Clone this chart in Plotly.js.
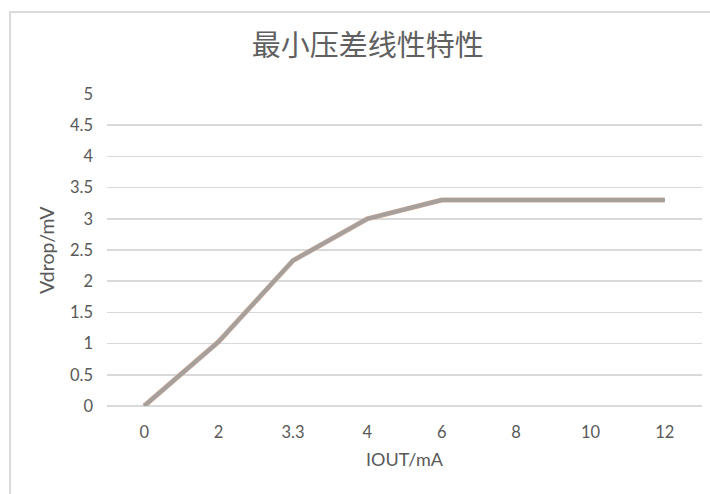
<!DOCTYPE html>
<html>
<head>
<meta charset="utf-8">
<script src="https://cdn.plot.ly/plotly-3.0.1.min.js"></script>
<style>
html,body{margin:0;padding:0;background:#fff;}
#chart{width:710px;height:494px;position:absolute;left:0;top:0;}
#frame{position:absolute;left:9px;top:11px;width:720px;height:500px;border:2px solid #dadada;pointer-events:none;box-sizing:border-box;}
</style>
</head>
<body>
<div id="chart"></div>
<div id="frame"></div>
<script>
var categories = ["0", "2", "3.3", "4", "6", "8", "10", "12"];
var vdrop = [0, 1.03, 2.33, 3.0, 3.3, 3.3, 3.3, 3.3];
var yTicks = [0, 0.5, 1, 1.5, 2, 2.5, 3, 3.5, 4, 4.5, 5];
var yTickText = ["0", "0.5", "1", "1.5", "2", "2.5", "3", "3.5", "4", "4.5", "5"];

var latin = "Lato, 'Open Sans', 'Noto Sans', sans-serif";
var traces = [
  {
    x: categories, y: vdrop, type: "scatter", mode: "lines",
    line: {color: "rgb(214,172,152)", width: 5},
    hoverinfo: "skip"
  },
  {
    x: categories, y: vdrop, type: "scatter", mode: "lines",
    line: {color: "rgb(166,160,157)", width: 4},
    hoverinfo: "skip"
  }
];

var layout = {
  width: 710, height: 494,
  margin: {l: 107, r: 8, t: 94, b: 88},
  paper_bgcolor: "#fff", plot_bgcolor: "#fff",
  showlegend: false,
  title: {
    text: "最小压差线性特性",
    x: 0.518, xanchor: "center", y: 0.908, yanchor: "middle",
    font: {family: "'Noto Sans CJK SC', sans-serif", size: 29, color: "#606060"}
  },
  xaxis: {
    type: "category",
    range: [-0.5, 7.5],
    showgrid: false, zeroline: false, showline: false,
    ticks: "", tickfont: {family: latin, size: 16.5, color: "#595959"},
    ticklabelstandoff: 14,
    title: {text: "IOUT/mA", standoff: 12, font: {family: latin, size: 18, color: "#595959"}}
  },
  yaxis: {
    range: [0, 5],
    tickvals: yTicks, ticktext: yTickText,
    showgrid: true, gridcolor: "#d9d9d9", gridwidth: 1.5,
    zeroline: true, zerolinecolor: "#d9d9d9", zerolinewidth: 1.5,
    showline: false, ticks: "",
    tickfont: {family: latin, size: 16.5, color: "#595959"},
    ticklabelstandoff: 13
  },
  annotations: [{
    text: "Vdrop/mV", textangle: -90,
    xref: "paper", yref: "paper", x: -0.1025, y: 0.5,
    xanchor: "center", yanchor: "middle", showarrow: false,
    font: {family: latin, size: 19.5, color: "#595959"}
  }]
};

Plotly.newPlot("chart", traces, layout, {staticPlot: true, displayModeBar: false});
</script>
</body>
</html>
